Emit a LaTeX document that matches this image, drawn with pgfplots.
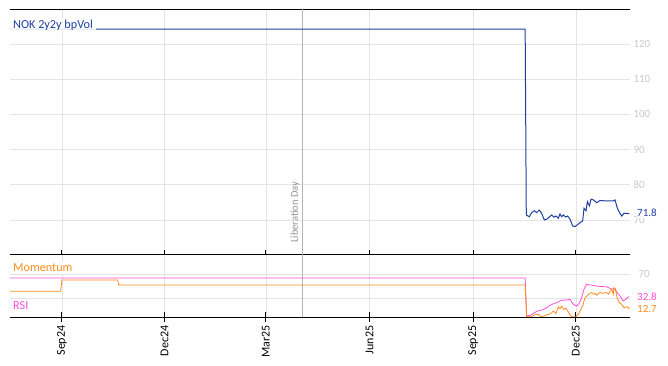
\documentclass[border=0pt]{standalone}
\usepackage{pgfplots}
\pgfplotsset{compat=1.18}
\usepackage{fontspec}
\setmainfont{Carlito}
\definecolor{nokblue}{HTML}{1F3FA0}
\definecolor{momorange}{HTML}{FF8C1A}
\definecolor{rsimag}{HTML}{FF4FD8}
\definecolor{gridgray}{HTML}{E4E4E4}
\definecolor{ticklab}{HTML}{C8C8C8}
\definecolor{libgray}{HTML}{B4B4B4}
\begin{document}
\begin{tikzpicture}
\path[use as bounding box] (-10pt,-49pt) rectangle (658pt,317pt);
\pgfplotsset{
  common/.style={
    scale only axis, width=620pt,
    xmin=-46, xmax=504,
    xtick={0,91,181,273,365,456},
    grid=major, major grid style={gridgray, line width=0.6pt},
    separate axis lines,
    x axis line style={black, line width=0.8pt},
    y axis line style={draw=none},
    ytick style={draw=none},
    yticklabel pos=right,
    yticklabel style={ticklab, font=\fontsize{11}{12}\selectfont},
    /pgf/number format/assume math mode=true,
    xtick pos=bottom,
    x tick style={black, line width=0.8pt},
  }
}
% top panel
\begin{axis}[common, at={(0pt,63pt)}, anchor=south west, height=245pt,
  ymin=60.3, ymax=130, ytick={70,80,...,120},
  xticklabels={}, tick align=inside, major tick length=4pt]
\addplot[libgray, line width=0.6pt] coordinates {(213,60.3) (213,130)};
\addplot[nokblue, line width=1pt] coordinates {
(-46,124.3) (411,124.3) (412,71.4) (414.7,70.9) (416.8,72.1) (419.1,72.6) (421.2,72.1) (423.5,72.8) (425.6,71.9) (428,70) (430.1,70.2) (432.4,70.8) (434.5,71.4) (436.6,70.8) (438.3,71.1) (440.4,70.5) (441.9,71.7) (443.4,70.9) (444.9,71.4) (447,70.8) (448.7,71.1) (450.8,70.2) (453.1,68.3) (455.2,68.1) (457.3,68.6) (459.6,69.2) (462,69.7) (463.2,73.3) (465,72.6) (466.2,75.2) (468,74.0) (469.4,75.9) (471.5,75.7) (474.5,74.9) (477.4,75.5) (483.3,75.4) (489.2,75.4) (490.7,75.7) (492.8,73.3) (495.1,71.9) (496.7,71.1) (498.8,71.9) (502.6,71.8) (503.5,71.8)};
\end{axis}
% bottom panel
\begin{axis}[common, at={(0pt,0pt)}, anchor=south west, height=63pt,
  ymin=0, ymax=102.4, ytick={30,70}, yticklabels={,70},
  xticklabels={Sep24,Dec24,Mar25,Jun25,Sep25,Dec25},
  xticklabel style={rotate=90, anchor=east, font=\fontsize{12}{13}\selectfont, black},
  tick align=center, major tick length=10pt]
\addplot[libgray, line width=0.6pt] coordinates {(213,0) (213,102.4)};
\addplot[rsimag, line width=0.8pt] coordinates {
(-46,63.4) (411,63.4) (412.3,2.5) (415.3,2.5) (418.2,5.8) (421.2,9.1) (424.1,10.7) (427.1,12.3) (430.1,15.1) (433,18.9) (436,21.7) (439,23.3) (441.9,26.1) (444.8,27.2) (447.8,27.7) (450.8,28.8) (453.7,20.6) (456.7,17.8) (459,22.2) (461.1,31.5) (463.2,45.3) (465.6,53.5) (467.9,51.9) (470,51.9) (472.9,50.8) (477.4,49.6) (483.3,49.1) (487.7,45.3) (490.7,46.4) (492.2,40.9) (495.1,34.3) (498,26.1) (500.4,28.8) (502.5,32.8) (503.5,32.8)};
\addplot[momorange, line width=0.8pt] coordinates {
(-46,42) (-1,42) (0,60) (49.5,60) (50.5,51.9) (411,51.9) (412.3,0.5) (416.7,0.5) (419.7,3.6) (422.6,4.1) (425.6,0.5) (428.6,2.5) (431.5,4.1) (434.5,6.9) (436,9.6) (438.3,5.8) (440.4,16.7) (441.9,13.4) (443.4,17.8) (445.4,12.3) (447.2,14.5) (449.3,7.9) (450.8,3.6) (452.2,0.5) (456.1,0.5) (458.1,4.1) (459.6,9.6) (462,17.8) (464.1,31.5) (466.1,34.3) (467.9,38.2) (470,39.8) (471.5,37) (472.9,38.7) (474.4,35.4) (477.4,39.8) (480.3,38.7) (483.3,39.8) (484.8,37) (486.2,40.9) (487.7,45.3) (489.2,37) (489.8,48) (491.6,40.9) (492.7,29.9) (494.5,23.3) (496.6,20.6) (498.6,15.1) (501,16.7) (502.5,15.1) (503.5,12.7)};
\end{axis}
% labels
\node[anchor=west, fill=white, fill opacity=0.85, text opacity=1, inner xsep=3pt, inner ysep=2pt, text=nokblue, font=\fontsize{12.2}{13}\selectfont] at (0pt,292pt) {NOK 2y2y bpVol};
\node[anchor=west, fill=white, inner xsep=3pt, inner ysep=2pt, text=momorange, font=\fontsize{12.2}{13}\selectfont] at (0pt,49pt) {Momentum};
\node[anchor=west, fill=white, inner xsep=3pt, inner ysep=2pt, text=rsimag, font=\fontsize{12.2}{13}\selectfont] at (0pt,11pt) {RSI};
\node[anchor=west, inner sep=0pt, rotate=90, text=gray!85, font=\fontsize{10.5}{11}\selectfont] at (285pt,74pt) {Liberation Day};
\node[anchor=west, inner xsep=0pt, inner ysep=1pt, fill=white, fill opacity=0.75, text opacity=1, text=nokblue, font=\fontsize{11}{12}\selectfont] at (627pt,104pt) {71.8};
\node[anchor=west, inner sep=0pt, text=rsimag, font=\fontsize{11}{12}\selectfont] at (627pt,20pt) {32.8};
\node[anchor=west, inner sep=0pt, text=momorange, font=\fontsize{11}{12}\selectfont] at (627pt,8pt) {12.7};
\end{tikzpicture}
\end{document}
